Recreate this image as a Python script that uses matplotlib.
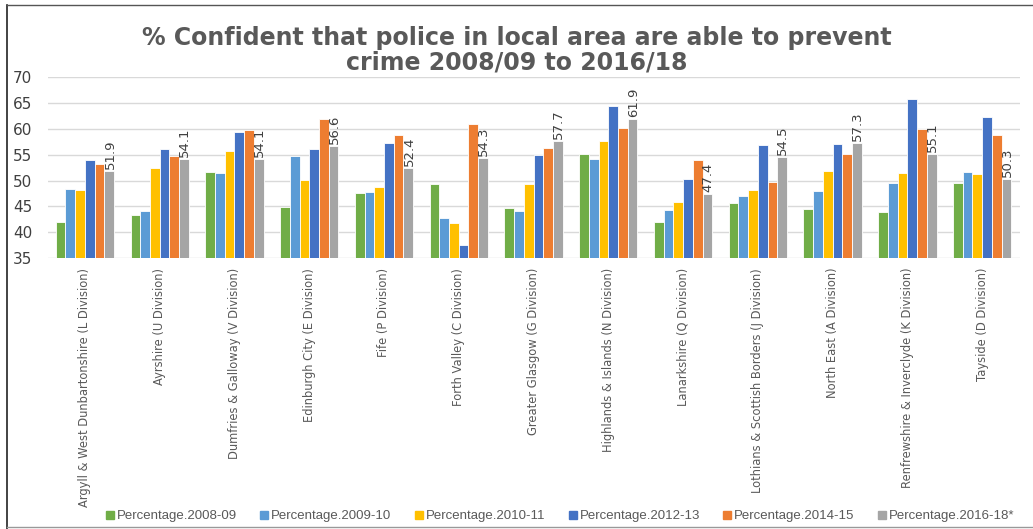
import numpy as np
import matplotlib.pyplot as plt
from matplotlib.lines import Line2D

divisions = [
    "Argyll & West Dunbartonshire (L Division)",
    "Ayrshire (U Division)",
    "Dumfries & Galloway (V Division)",
    "Edinburgh City (E Division)",
    "Fife (P Division)",
    "Forth Valley (C Division)",
    "Greater Glasgow (G Division)",
    "Highlands & Islands (N Division)",
    "Lanarkshire (Q Division)",
    "Lothians & Scottish Borders (J Division)",
    "North East (A Division)",
    "Renfrewshire & Inverclyde (K Division)",
    "Tayside (D Division)",
]

p2008 = [42.0, 43.4, 51.7, 44.8, 47.6, 49.4, 44.7, 55.1, 41.9, 45.7, 44.5, 43.9, 49.5]
p2009 = [48.4, 44.1, 51.5, 54.8, 47.8, 42.8, 44.1, 54.2, 44.3, 47.1, 48.0, 49.5, 51.7]
p2010 = [48.2, 52.4, 55.7, 50.2, 48.7, 41.8, 49.3, 57.6, 45.9, 48.2, 51.9, 51.5, 51.3]
p2012 = [54.0, 56.1, 59.4, 56.1, 57.2, 37.6, 54.9, 64.4, 50.4, 56.8, 57.0, 65.8, 62.3]
p2014 = [53.2, 54.8, 59.8, 61.9, 58.8, 61.0, 56.3, 60.1, 53.9, 49.8, 55.1, 60.0, 58.8]
p2016 = [51.9, 54.1, 54.1, 56.6, 52.4, 54.3, 57.7, 61.9, 47.4, 54.5, 57.3, 55.1, 50.3]

series = [p2008, p2009, p2010, p2012, p2014, p2016]
names = ["Percentage.2008-09", "Percentage.2009-10", "Percentage.2010-11",
         "Percentage.2012-13", "Percentage.2014-15", "Percentage.2016-18*"]
colors = ["#70AD47", "#5B9BD5", "#FFC000", "#4472C4", "#ED7D31", "#A5A5A5"]

plt.rcParams['font.family'] = ['DejaVu Sans']

fig = plt.figure(figsize=(10.33, 5.29), dpi=100)
ax = fig.add_axes([0.046, 0.512, 0.941, 0.342])

x = np.arange(len(divisions))
w = 0.13
for i, (vals, c) in enumerate(zip(series, colors)):
    pos = x + (i - 2.5) * w
    ax.bar(pos, np.array(vals) - 35, w, bottom=35, color=c, edgecolor='white',
           linewidth=0.6, zorder=3, label=names[i])
    if i == 5:
        for px, v in zip(pos, vals):
            ax.text(px + 0.01, v + 0.4, f"{v:.1f}", rotation=90, ha='center',
                    va='bottom', fontsize=9.5, color='#404040', zorder=4)

ax.set_ylim(35, 70)
ax.set_xlim(-0.5, len(divisions) - 0.5)
ax.set_yticks(range(35, 71, 5))
ax.tick_params(axis='y', length=0, labelsize=11, labelcolor='#404040', pad=11)
ax.set_xticks(x)
ax.set_xticklabels(divisions, rotation=90, fontsize=8.3, color='#595959')
ax.tick_params(axis='x', length=0, pad=7)
ax.grid(axis='y', color='#D9D9D9', linewidth=1, zorder=0)
for s in ax.spines.values():
    s.set_visible(False)

fig.text(0.5, 0.905, "% Confident that police in local area are able to prevent\ncrime 2008/09 to 2016/18",
         ha='center', va='center', fontsize=17, fontweight='bold', color='#595959',
         linespacing=1.05)

handles = [Line2D([], [], marker='s', linestyle='none', color=c, markersize=6) for c in colors]
fig.legend(handles, names, loc='center', bbox_to_anchor=(0.541, 0.024), ncol=6,
           frameon=False, prop={'family': 'Liberation Sans', 'size': 9.5},
           handletextpad=0.0, columnspacing=1.6, labelcolor='#595959', handlelength=1.0)

# chart frame
fig.add_artist(Line2D([0.007, 0.007], [0.0, 0.99], color='#222222', linewidth=1.2))
fig.add_artist(Line2D([0.007, 1.0], [0.99, 0.99], color='#555555', linewidth=1.0))
fig.add_artist(Line2D([0.007, 1.0], [0.004, 0.004], color='#999999', linewidth=1.0))

fig.savefig("out.png", dpi=100)
